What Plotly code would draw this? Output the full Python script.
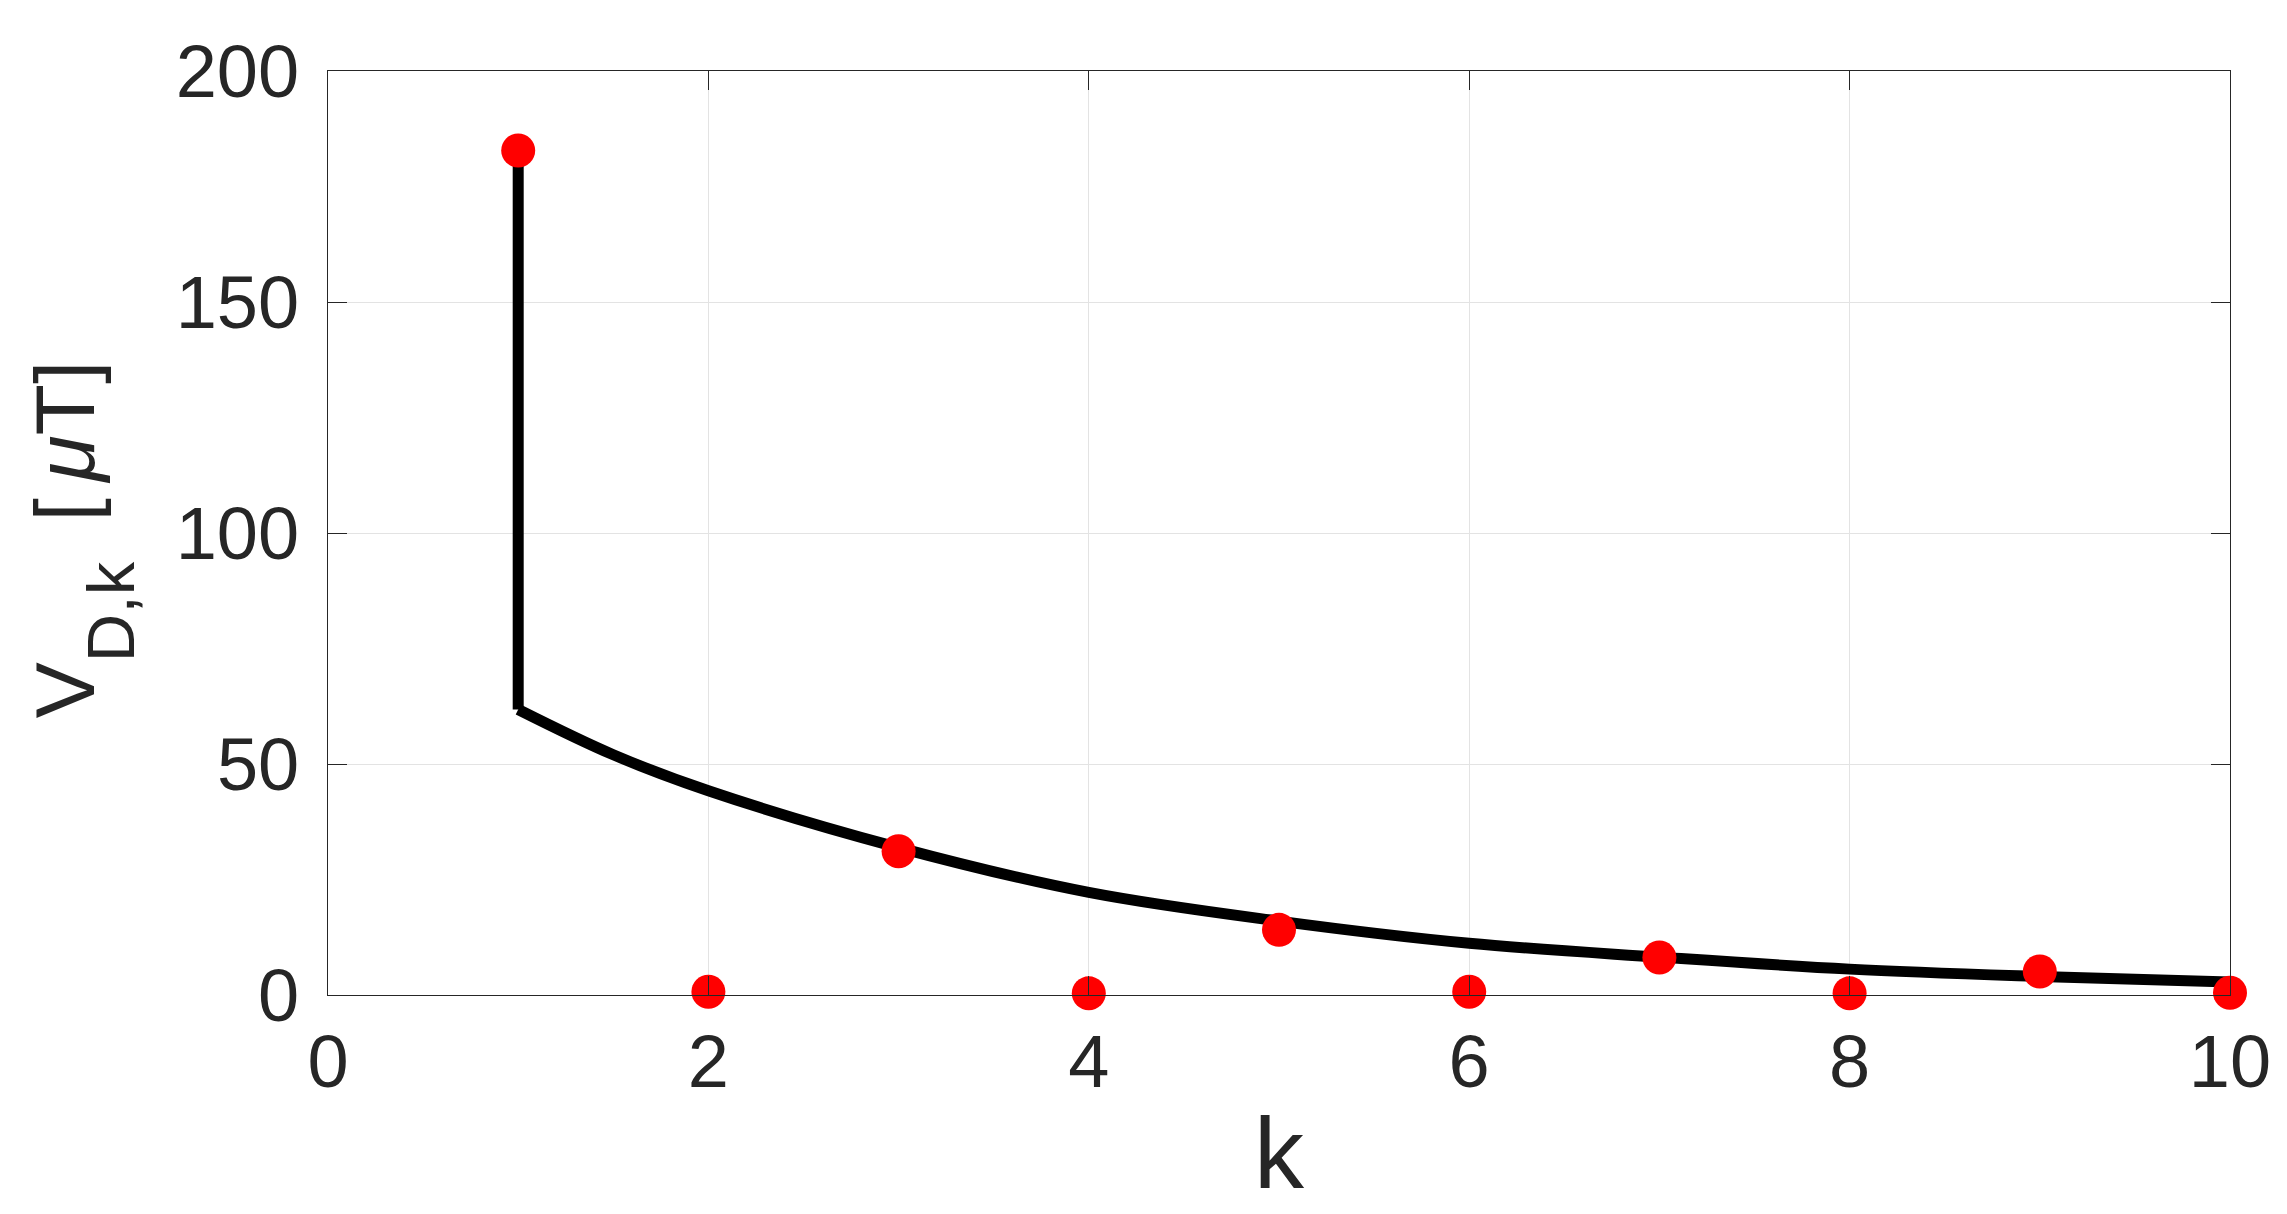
import plotly.graph_objects as go

# Red dots: V_{D,k} at each k
k_pts = [1, 2, 3, 4, 5, 6, 7, 8, 9, 10]
v_pts = [182.8, 0.7, 31.1, 0.36, 14.1, 0.72, 8.1, 0.36, 5.1, 0.5]

# Black envelope: vertical jump at k=1, then decaying curve
jump_k = [1, 1]
jump_v = [181.0, 61.8]
curve_k = [1, 1.5, 2, 3, 4, 5, 6, 7, 8, 9, 10]
curve_v = [61.8, 52.0, 44.2, 31.9, 22.2, 16.0, 11.2, 8.2, 5.6, 4.0, 2.8]

x_ticks = [0, 2, 4, 6, 8, 10]
y_ticks = [0, 50, 100, 150, 200]

FONT = "Liberation Sans, Arial, Helvetica, sans-serif"
TXT = "#262626"

fig = go.Figure()
fig.add_trace(go.Scatter(x=jump_k, y=jump_v, mode="lines",
                         line=dict(color="black", width=11), showlegend=False))
fig.add_trace(go.Scatter(x=curve_k, y=curve_v, mode="lines",
                         line=dict(color="black", width=11, shape="spline"),
                         showlegend=False))
fig.add_trace(go.Scatter(x=k_pts, y=v_pts, mode="markers",
                         marker=dict(color="#ff0000", size=34, line=dict(width=0)),
                         cliponaxis=False, showlegend=False))

axis_common = dict(
    showgrid=True, gridcolor="#e3e3e3", gridwidth=1,
    showline=True, linecolor=TXT, linewidth=1, mirror="ticks",
    ticks="inside", ticklen=19, tickwidth=1, tickcolor=TXT,
    tickfont=dict(family=FONT, size=74, color=TXT),
    zeroline=False,
)

fig.update_xaxes(range=[0, 10], tickvals=x_ticks, ticktext=[str(t) for t in x_ticks],
                 ticklabelstandoff=2, **axis_common)
fig.update_yaxes(range=[0, 200], tickvals=y_ticks, ticktext=[str(t) for t in y_ticks],
                 ticklabelstandoff=13, **axis_common)

fig.add_annotation(text="k", xref="paper", yref="paper", x=0.5, y=-0.1715,
                   xanchor="center", yanchor="middle", showarrow=False,
                   font=dict(family=FONT, size=100, color=TXT))
fig.add_annotation(
    text="V<sub><span style='font-size:67px;baseline-shift:-22px'>D,k</span></sub>"
         "\u00a0\u2009[\u2009<i>μ</i>T]",
    xref="paper", yref="paper", x=-0.1284, y=0.493,
    xanchor="center", yanchor="middle", textangle=-90, showarrow=False,
    font=dict(family=FONT, size=84, color=TXT))

# page body has an 8px margin: shrink the figure so the plot area lands in place
fig.update_layout(
    width=2279, height=1206,
    margin=dict(l=319.5, r=56.5, t=63, b=219, pad=0),
    paper_bgcolor="white", plot_bgcolor="white",
    showlegend=False,
)

fig.write_html("out.html")
